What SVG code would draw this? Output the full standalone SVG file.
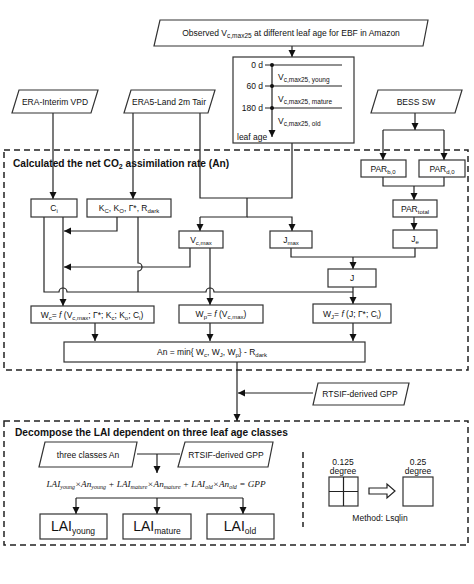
<svg xmlns="http://www.w3.org/2000/svg" width="474" height="584" viewBox="0 0 474 584">
<defs>
<marker id="ah" markerUnits="userSpaceOnUse" markerWidth="8" markerHeight="8" refX="7" refY="3.5" orient="auto">
<path d="M0,0 L7,3.5 L0,7 z" fill="#111"/>
</marker>
<style>
text{font-family:"Liberation Sans",Arial,sans-serif;fill:#111;font-size:8.5px}
.ln{fill:none;stroke:#222;stroke-width:1.2}
.ar{fill:none;stroke:#222;stroke-width:1.2;marker-end:url(#ah)}
.bx{fill:#fff;stroke:#333;stroke-width:1.2}
.dash{fill:none;stroke:#222;stroke-width:1.5;stroke-dasharray:6 4}
.t{font-weight:bold;font-size:10.2px}
.m{text-anchor:middle}
.eq{font-family:"Liberation Serif","Times New Roman",serif;font-style:italic;font-size:9.2px}
.big{font-size:14px}
</style>
</defs>
<rect width="474" height="584" fill="#fff"/>

<!-- group frames -->
<g id="group-an">
<rect class="dash" x="4" y="150" width="464" height="220"/>
<text class="t" x="13" y="167">Calculated the net CO<tspan font-size="7" dy="2">2</tspan><tspan dy="-2"> assimilation rate (An)</tspan></text>
</g>
<g id="group-lai">
<rect class="dash" x="4" y="421" width="464" height="124"/>
<text class="t" x="15" y="436">Decompose the LAI dependent on three leaf age classes</text>
<line class="dash" x1="303" y1="452" x2="303" y2="527" stroke-width="1.2"/>
</g>

<!-- connectors -->
<g id="connectors">
<path class="ar" d="M292,46 V57"/>
<path class="ln" d="M292,143 V198 H200 V113"/>
<path class="ln" d="M247,198 V217 H200"/>
<path class="ar" d="M200,217 V231"/>
<path class="ar" d="M247,217 H292 V231"/>
<path class="ar" d="M53,113 V199"/>
<path class="ar" d="M133,113 V199"/>
<path class="ar" d="M415,113 V130"/>
<path class="ln" d="M383,130 H444"/>
<path class="ar" d="M383,130 V160"/>
<path class="ar" d="M444,130 V160"/>
<path class="ln" d="M383,177 V186 H444 V177"/>
<path class="ar" d="M414,186 V200"/>
<path class="ar" d="M414,217 V230"/>
<path class="ln" d="M291,248 V257 H415 V248"/>
<path class="ar" d="M353,257 V269"/>
<path class="ar" d="M353,287 V304"/>
<path class="ar" d="M117,217 V231 H64"/>
<path class="ar" d="M190,248 V267 H64"/>
<path class="ar" d="M63,217 V306"/>
<path class="ln" d="M44,217 V292 H59 A4,4 0 0 1 67,292 H206 A4,4 0 0 1 214,292 H353"/>
<path class="ln" d="M138,217 V263 A4,4 0 0 1 138,271 V292"/>
<path class="ar" d="M210,248 V305"/>
<path class="ar" d="M95,323 V341"/>
<path class="ar" d="M210,323 V341"/>
<path class="ar" d="M353,323 V341"/>
<path class="ar" d="M237,362 V421"/>
<path class="ar" d="M313,393 H238"/>
<path class="ln" d="M137,454 H180"/>
<path class="ar" d="M157,454 V473"/>
<path class="ln" d="M76,498 H243"/>
<path class="ar" d="M76,498 V514"/>
<path class="ar" d="M157,498 V514"/>
<path class="ar" d="M243,498 V514"/>
</g>

<!-- input parallelograms -->
<g id="obs-vcmax">
<polygon class="bx" points="160,20 428,20 423,46 154,46"/>
<text class="m" x="291" y="36">Observed V<tspan font-size="6.5" dy="2">c,max25</tspan><tspan dy="-2"> at different leaf age for EBF in Amazon</tspan></text>
</g>
<g id="era-vpd">
<polygon class="bx" points="19,90 98,90 91,113 12,113"/>
<text class="m" x="55" y="104.5">ERA-Interim VPD</text>
</g>
<g id="era5-tair">
<polygon class="bx" points="131,90 215,90 208,113 124,113"/>
<text class="m" x="169" y="104.5">ERA5-Land 2m Tair</text>
</g>
<g id="bess-sw">
<polygon class="bx" points="378,90 462,90 455,113 371,113"/>
<text class="m" x="416" y="104.5">BESS SW</text>
</g>

<!-- leaf age timeline -->
<g id="leaf-age">
<rect class="bx" x="233" y="57" width="121" height="86"/>
<path class="ln" d="M265,65 H342 M265,86 H342 M265,108 H342"/>
<path class="ar" d="M272,65 V137"/>
<circle cx="272" cy="65" r="2" fill="#111"/>
<circle cx="272" cy="86" r="2" fill="#111"/>
<circle cx="272" cy="108" r="2" fill="#111"/>
<text x="263" y="68" text-anchor="end">0 d</text>
<text x="263" y="89" text-anchor="end">60 d</text>
<text x="263" y="111" text-anchor="end">180 d</text>
<text x="278" y="80" font-size="10.5">V<tspan font-size="6.5" dy="2">c,max25, young</tspan></text>
<text x="278" y="102" font-size="10.5">V<tspan font-size="6.5" dy="2">c,max25, mature</tspan></text>
<text x="278" y="124" font-size="10.5">V<tspan font-size="6.5" dy="2">c,max25, old</tspan></text>
<text x="237" y="140" font-size="8">leaf age</text>
</g>

<!-- calculation nodes -->
<g id="ci">
<rect class="bx" x="31" y="199" width="46" height="18"/>
<text class="m" x="54" y="211">C<tspan font-size="6" dy="2">i</tspan></text>
</g>
<g id="kc">
<rect class="bx" x="87" y="199" width="84" height="18"/>
<text class="m" x="129" y="211">K<tspan font-size="6" dy="2">C</tspan><tspan dy="-2">, K</tspan><tspan font-size="6" dy="2">O</tspan><tspan dy="-2">, Γ*, R</tspan><tspan font-size="6" dy="2">dark</tspan></text>
</g>
<g id="vcmax">
<rect class="bx" x="179" y="231" width="44" height="17"/>
<text class="m" x="201" y="242.5">V<tspan font-size="6" dy="2">c,max</tspan></text>
</g>
<g id="jmax">
<rect class="bx" x="270" y="231" width="42" height="17"/>
<text class="m" x="291" y="242.5">J<tspan font-size="6" dy="2">max</tspan></text>
</g>
<g id="par-b">
<rect class="bx" x="361" y="160" width="45" height="17"/>
<text class="m" x="383" y="171.5">PAR<tspan font-size="6" dy="2">b,0</tspan></text>
</g>
<g id="par-d">
<rect class="bx" x="419" y="160" width="46" height="17"/>
<text class="m" x="442" y="171.5">PAR<tspan font-size="6" dy="2">d,0</tspan></text>
</g>
<g id="par-total">
<rect class="bx" x="393" y="200" width="44" height="17"/>
<text class="m" x="415" y="211.5">PAR<tspan font-size="6" dy="2">total</tspan></text>
</g>
<g id="je">
<rect class="bx" x="393" y="230" width="44" height="18"/>
<text class="m" x="415" y="242">J<tspan font-size="6" dy="2">e</tspan></text>
</g>
<g id="j">
<rect class="bx" x="328" y="269" width="48" height="18"/>
<text class="m" x="352" y="281">J</text>
</g>
<g id="wc">
<rect class="bx" x="31" y="306" width="123" height="17"/>
<text class="m" x="92" y="317.5">W<tspan font-size="6" dy="2">c</tspan><tspan dy="-2">= </tspan><tspan font-style="italic">f</tspan> (V<tspan font-size="6" dy="2">c,max</tspan><tspan dy="-2">; Γ*; K</tspan><tspan font-size="6" dy="2">c</tspan><tspan dy="-2">; K</tspan><tspan font-size="6" dy="2">o</tspan><tspan dy="-2">; C</tspan><tspan font-size="6" dy="2">i</tspan><tspan dy="-2">)</tspan></text>
</g>
<g id="wp">
<rect class="bx" x="179" y="305" width="84" height="18"/>
<text class="m" x="221" y="317">W<tspan font-size="6" dy="2">p</tspan><tspan dy="-2">= </tspan><tspan font-style="italic">f</tspan> (V<tspan font-size="6" dy="2">c,max</tspan><tspan dy="-2">)</tspan></text>
</g>
<g id="wj">
<rect class="bx" x="313" y="304" width="78" height="19"/>
<text class="m" x="352" y="316.5">W<tspan font-size="6" dy="2">J</tspan><tspan dy="-2">= </tspan><tspan font-style="italic">f</tspan> (J; Γ*; C<tspan font-size="6" dy="2">i</tspan><tspan dy="-2">)</tspan></text>
</g>
<g id="an">
<rect class="bx" x="64" y="342" width="301" height="20"/>
<text class="m" x="212" y="355">An = min{ W<tspan font-size="6" dy="2">c</tspan><tspan dy="-2">, W</tspan><tspan font-size="6" dy="2">J</tspan><tspan dy="-2">, W</tspan><tspan font-size="6" dy="2">p</tspan><tspan dy="-2">} - R</tspan><tspan font-size="6" dy="2">dark</tspan></text>
</g>

<g id="rtsif-gpp">
<polygon class="bx" points="318,383 409,383 404,405 313,405"/>
<text class="m" x="360" y="397">RTSIF-derived GPP</text>
</g>

<!-- LAI decomposition -->
<g id="three-classes-an">
<polygon class="bx" points="45,442 137,442 132,467 39,467"/>
<text class="m" x="88" y="457.5">three classes An</text>
</g>
<g id="rtsif-gpp-2">
<polygon class="bx" points="185,442 273,442 268,467 178,467"/>
<text class="m" x="226" y="457.5">RTSIF-derived GPP</text>
</g>
<g id="equation">
<text class="eq m" x="156" y="487">LAI<tspan font-size="6" dy="2">young</tspan><tspan dy="-2">×An</tspan><tspan font-size="6" dy="2">young</tspan><tspan dy="-2"> + LAI</tspan><tspan font-size="6" dy="2">mature</tspan><tspan dy="-2">×An</tspan><tspan font-size="6" dy="2">mature</tspan><tspan dy="-2"> + LAI</tspan><tspan font-size="6" dy="2">old</tspan><tspan dy="-2">×An</tspan><tspan font-size="6" dy="2">old</tspan><tspan dy="-2"> = GPP</tspan></text>
</g>
<g id="lai-young">
<rect class="bx" x="40" y="514" width="67" height="25"/>
<text class="m big" x="73" y="531">LAI<tspan font-size="8.5" dy="3">young</tspan></text>
</g>
<g id="lai-mature">
<rect class="bx" x="123" y="514" width="68" height="25"/>
<text class="m big" x="157" y="531">LAI<tspan font-size="8.5" dy="3">mature</tspan></text>
</g>
<g id="lai-old">
<rect class="bx" x="207" y="514" width="67" height="25"/>
<text class="m big" x="240" y="531">LAI<tspan font-size="8.5" dy="3">old</tspan></text>
</g>

<!-- resampling method -->
<g id="method">
<text class="m" x="343" y="465" font-size="8.5">0.125</text>
<text class="m" x="343" y="473.5" font-size="8.5">degree</text>
<rect class="bx" x="329" y="477" width="29" height="29"/>
<path class="ln" d="M343.5,477 V506 M329,491.5 H358"/>
<path fill="#fff" stroke="#222" stroke-width="1.2" d="M369,488 H387 V484 L395,491 L387,498 V494 H369 Z"/>
<text class="m" x="418" y="465" font-size="8.5">0.25</text>
<text class="m" x="418" y="473.5" font-size="8.5">degree</text>
<rect class="bx" x="403" y="477" width="30" height="29"/>
<text class="m" x="380" y="521" font-size="10">Method: Lsqlin</text>
</g>
</svg>
